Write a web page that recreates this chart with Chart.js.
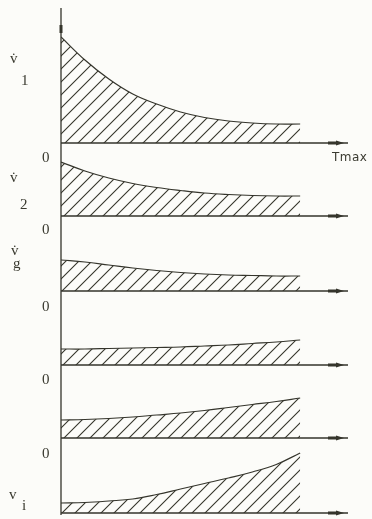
<!DOCTYPE html>
<html>
<head>
<meta charset="utf-8">
<script src="https://cdn.jsdelivr.net/npm/chart.js@4.4.1/dist/chart.umd.min.js"></script>
<style>
  html, body { margin: 0; padding: 0; background: #fcfcf9; }
  #wrap { position: relative; width: 372px; height: 519px; overflow: hidden; }
  .panel { position: absolute; left: 0; width: 372px; }
  .lbl { position: absolute; font-family: "Liberation Serif", serif; font-size: 15px; color: #3a3a30; line-height: 1; }
  .tmax { position: absolute; font-family: "DejaVu Sans", sans-serif; font-size: 12px; color: #3a3a30; line-height: 1; letter-spacing: 0.5px; }
</style>
</head>
<body>
<div id="wrap">
  <div class="panel" style="top:0;height:150px"><canvas id="p1"></canvas></div>
  <div class="panel" style="top:150px;height:73px"><canvas id="p2"></canvas></div>
  <div class="panel" style="top:223px;height:75px"><canvas id="p3"></canvas></div>
  <div class="panel" style="top:298px;height:74px"><canvas id="p4"></canvas></div>
  <div class="panel" style="top:372px;height:73px"><canvas id="p5"></canvas></div>
  <div class="panel" style="top:445px;height:74px"><canvas id="p6"></canvas></div>

  <span class="lbl" style="left:10px;top:51px">v&#775;</span>
  <span class="lbl" style="left:21px;top:73px">1</span>
  <span class="lbl" style="left:42px;top:150px">0</span>
  <span class="tmax" style="left:332px;top:151px">Tmax</span>

  <span class="lbl" style="left:10px;top:170px">v&#775;</span>
  <span class="lbl" style="left:20px;top:197px">2</span>
  <span class="lbl" style="left:42px;top:222px">0</span>

  <span class="lbl" style="left:11px;top:243px">v&#775;</span>
  <span class="lbl" style="left:13px;top:256px">g</span>
  <span class="lbl" style="left:42px;top:299px">0</span>

  <span class="lbl" style="left:42px;top:372px">0</span>
  <span class="lbl" style="left:42px;top:446px">0</span>

  <span class="lbl" style="left:9px;top:487px">v</span>
  <span class="lbl" style="left:22px;top:498px">i</span>
</div>
<script>
// time steps from 0 to Tmax
const timeSteps = [0, 1, 2, 3, 4, 5, 6, 7, 8, 9, 10];

// height of each curve above its own zero line
const v1Values = [106, 83, 64, 49, 39, 31, 25.5, 22, 20, 19, 19];
const v2Values = [54, 45, 38, 32.5, 28.5, 25.5, 23, 21.5, 20.5, 20, 20];
const vgValues = [31, 29, 26, 23, 20.5, 18.5, 17, 16, 15.5, 15, 15];
const v4Values = [16, 16, 16.5, 17, 17.5, 18, 19, 20, 21.5, 23, 25];
const v5Values = [18, 18.5, 19.5, 21, 23, 25, 27.5, 30.5, 33.5, 36.5, 40];
const viValues = [10, 10.5, 12, 14, 18.5, 24, 29.5, 35, 41, 48.5, 60];

const ink = '#35352c';

/**
 * Diagonal hatch used to fill the area under each curve
 */
function hatchPattern() {
  const s = 13;
  const c = document.createElement('canvas');
  c.width = s;
  c.height = s;
  const g = c.getContext('2d');
  g.strokeStyle = ink;
  g.lineWidth = 1.1;
  g.beginPath();
  g.moveTo(-1, s + 1); g.lineTo(s + 1, -1);
  g.moveTo(-1, 1); g.lineTo(1, -1);
  g.moveTo(s - 1, s + 1); g.lineTo(s + 1, s - 1);
  g.stroke();
  return g.createPattern(c, 'repeat');
}

// draws the vertical axis piece and the zero line with its arrow
const axesPlugin = {
  id: 'axesPlugin',
  afterDatasetsDraw(chart, args, opts) {
    const ctx = chart.ctx;
    const x0 = chart.scales.x.getPixelForValue(0);
    const xEnd = chart.scales.x.getPixelForValue(12);
    const y0 = chart.scales.y.getPixelForValue(0);
    ctx.save();
    ctx.strokeStyle = ink;
    ctx.fillStyle = ink;
    ctx.lineWidth = 1.3;
    ctx.beginPath();
    ctx.moveTo(x0, opts.axisTop);
    ctx.lineTo(x0, opts.axisBottom === undefined ? chart.height : y0 + opts.axisBottom);
    ctx.moveTo(x0, y0);
    ctx.lineTo(xEnd, y0);
    ctx.stroke();
    // arrow on the zero line
    ctx.fillRect(xEnd - 20, y0 - 1.5, 9, 3);
    ctx.beginPath();
    ctx.moveTo(xEnd - 12, y0 - 2.5);
    ctx.lineTo(xEnd - 4, y0);
    ctx.lineTo(xEnd - 12, y0 + 2.5);
    ctx.closePath();
    ctx.fill();
    if (opts.topMark) {
      ctx.fillRect(x0 - 1.5, 25, 3, 8);
    }
    ctx.restore();
  }
};

const pattern = hatchPattern();

const panels = [
  {id: 'p1', values: v1Values, bottomPad: 7, axisTop: 8, topMark: true},
  {id: 'p2', values: v2Values, bottomPad: 7, axisTop: 0},
  {id: 'p3', values: vgValues, bottomPad: 7, axisTop: 0},
  {id: 'p4', values: v4Values, bottomPad: 7, axisTop: 0},
  {id: 'p5', values: v5Values, bottomPad: 7, axisTop: 0},
  {id: 'p6', values: viValues, bottomPad: 6, axisTop: 0, axisBottom: 2}
];

panels.forEach(p => {
  const canvas = document.getElementById(p.id);
  const h = canvas.parentNode.clientHeight;
  new Chart(canvas, {
    type: 'line',
    data: {
      labels: timeSteps,
      datasets: [{
        data: p.values.map((v, i) => ({x: timeSteps[i], y: v})),
        borderColor: ink,
        borderWidth: 1.2,
        backgroundColor: pattern,
        fill: 'origin',
        pointRadius: 0,
        tension: 0.4
      }]
    },
    options: {
      responsive: true,
      maintainAspectRatio: false,
      animation: false,
      layout: {padding: {left: 61, right: 24, top: 0, bottom: p.bottomPad}},
      plugins: {
        legend: {display: false},
        tooltip: {enabled: false},
        axesPlugin: {axisTop: p.axisTop, axisBottom: p.axisBottom, topMark: p.topMark}
      },
      scales: {
        x: {type: 'linear', min: 0, max: 12, display: false},
        y: {min: 0, max: h - p.bottomPad, display: false}
      }
    },
    plugins: [axesPlugin]
  });
});
</script>
</body>
</html>
